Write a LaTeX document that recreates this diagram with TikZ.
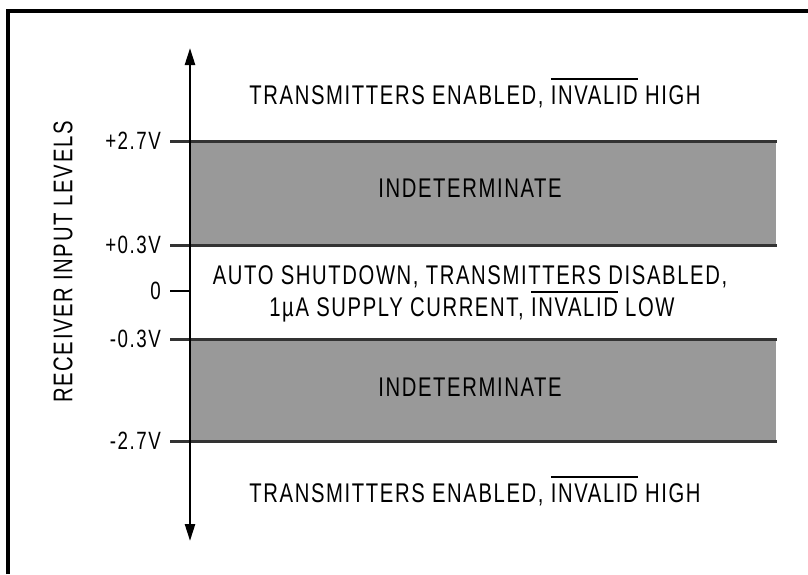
\documentclass[tikz,border=0pt]{standalone}
\usepackage{fontspec}
\setmainfont{Liberation Sans}
\newfontfamily\labfont[FakeStretch=0.75,LetterSpace=6]{Liberation Sans}
\usetikzlibrary{arrows.meta}
\newcommand\ovl[1]{\begingroup\setbox0\hbox{#1}\rlap{\raise\dimexpr\ht0+5pt\relax\hbox{\rule{\wd0}{2pt}}}\box0\endgroup}
\definecolor{bandgray}{HTML}{999999}
\definecolor{linegray}{HTML}{333333}
\tikzset{
  lab/.style={font=\labfont\fontsize{27}{30}\selectfont, inner sep=0pt, align=center},
  vlab/.style={font=\labfont\fontsize{25}{30}\selectfont, inner sep=0pt, anchor=east},
  band/.style={fill=bandgray, draw=none},
  bandline/.style={draw=linegray, line width=3pt},
  tick/.style={draw=black, line width=2.5pt},
}
\begin{document}
\begin{tikzpicture}[x=1pt,y=-1pt]
\useasboundingbox (0,0) rectangle (808,574);
% frame
\draw[line width=3.2pt] (8,574) -- (8,11) -- (808,11);
% bands
\fill[bandgray] (190,141) rectangle (776,245);
\fill[bandgray] (190,339) rectangle (776,441);
\coordinate (b1l) at (170,141); \coordinate (b1r) at (777,141);
\coordinate (b2l) at (170,245); \coordinate (b2r) at (777,245);
\coordinate (b3l) at (170,339); \coordinate (b3r) at (777,339);
\coordinate (b4l) at (170,441); \coordinate (b4r) at (777,441);
\draw[bandline] (b1l) -- (b1r);
\draw[bandline] (b2l) -- (b2r);
\draw[bandline] (b3l) -- (b3r);
\draw[bandline] (b4l) -- (b4r);
\coordinate (t0l) at (170,291); \coordinate (t0r) at (190,291);
\draw[tick] (t0l) -- (t0r);
% axis
\coordinate (atop) at (190,48);
\coordinate (abot) at (190,541);
\draw[line width=2.5pt, {Triangle[length=17pt,width=10pt]}-{Triangle[length=17pt,width=10pt]}] (abot) -- (atop);
% value labels
\node[vlab] (v1) at (161,141) {+2.7V};
\node[vlab] (v2) at (161,245) {+0.3V};
\node[vlab] (v3) at (161,291) {0};
\node[vlab] (v4) at (161,339) {-0.3V};
\node[vlab] (v5) at (161,441) {-2.7V};
\node[lab, rotate=90] (axl) at (63,262) {RECEIVER INPUT LEVELS};
% region texts
\node[lab] (r1) at (475,93) {TRANSMITTERS ENABLED, \ovl{INVALID} HIGH};
\node[lab] (r2) at (470,188) {INDETERMINATE};
\node[lab] (r3a) at (470,277) {AUTO SHUTDOWN, TRANSMITTERS DISABLED,};
\node[lab] (r3b) at (472,307) {1µA SUPPLY CURRENT, \ovl{INVALID} LOW};
\node[lab] (r4) at (470,387) {INDETERMINATE};
\node[lab] (r5) at (475,491) {TRANSMITTERS ENABLED, \ovl{INVALID} HIGH};
\end{tikzpicture}
\end{document}
